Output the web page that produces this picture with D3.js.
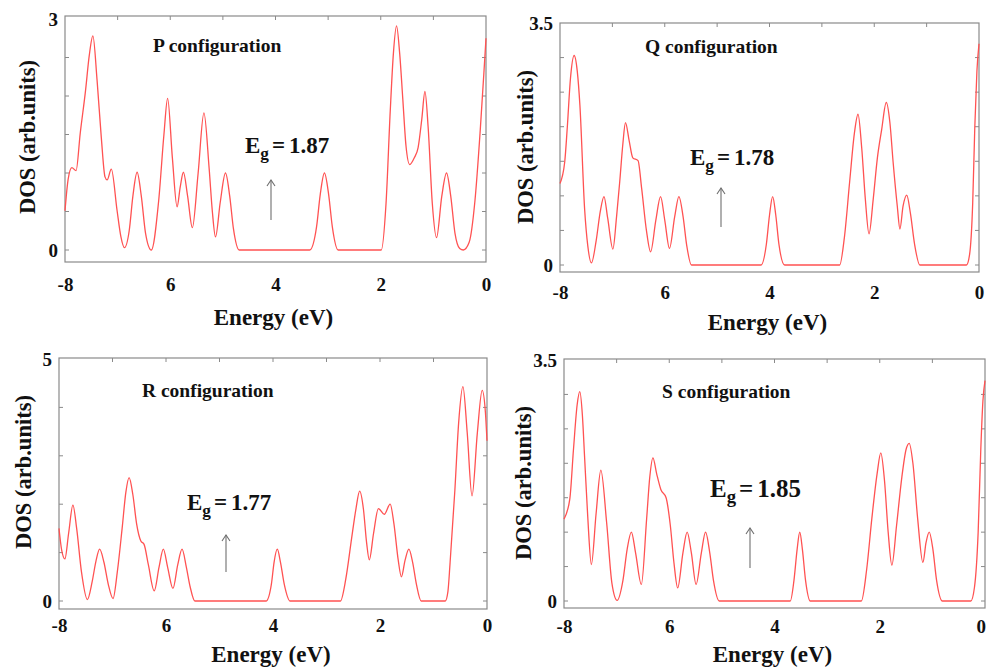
<!DOCTYPE html>
<html>
<head>
<meta charset="utf-8">
<script src="https://cdn.jsdelivr.net/npm/d3@7"></script>
<style>
  html, body { margin: 0; padding: 0; background: #fff; }
  svg { display: block; font-family: "Liberation Serif", "Times New Roman", serif; font-weight: bold; }
</style>
</head>
<body>
<svg id="chart" width="987" height="668"></svg>
<script>
// ---- data -------------------------------------------------------------
const energyTicks = [-8, -6, -4, -2, 0];
const energyTickLabels = ["-8", "6", "4", "2", "0"];
const energyMinorTicks = [-7, -6, -5, -4, -3, -2, -1];

const configNames = ["P configuration", "Q configuration", "R configuration", "S configuration"];
const gapValues = ["1.87", "1.78", "1.77", "1.85"];
const dosMax = [3, 3.5, 5, 3.5];
const dosTickLabels = [["0", "3"], ["0", "3.5"], ["0", "5"], ["0", "3.5"]];
const dosMinorStep = [0.5, 0.5, 1, 0.5];

// density of states, [energy (eV), DOS (arb. units)]
const dosP = [
  [-8.00,0.51],[-7.94,0.92],[-7.87,1.07],[-7.79,1.03],[-7.71,1.52],[-7.61,2.07],[-7.54,2.52],[-7.47,2.78],
  [-7.39,2.20],[-7.31,1.46],[-7.24,0.95],[-7.20,0.91],[-7.12,1.05],[-7.01,0.51],[-6.94,0.18],[-6.87,0.03],
  [-6.78,0.25],[-6.71,0.70],[-6.63,1.01],[-6.55,0.70],[-6.47,0.22],[-6.36,0.00],
  [-6.22,0.64],[-6.12,1.50],[-6.05,1.97],[-5.96,1.20],[-5.87,0.56],[-5.81,0.82],[-5.75,1.01],[-5.67,0.70],
  [-5.58,0.29],[-5.47,1.00],[-5.36,1.78],[-5.26,1.05],[-5.20,0.50],[-5.14,0.17],[-5.05,0.62],[-4.95,1.00],
  [-4.87,0.70],[-4.80,0.28],[-4.69,0.00],
  [-3.35,0.00],[-3.22,0.30],[-3.15,0.72],[-3.07,1.00],[-2.99,0.72],[-2.92,0.30],[-2.81,0.00],
  [-1.99,0.00],[-1.90,0.60],[-1.82,1.80],[-1.76,2.55],[-1.70,2.91],[-1.64,2.55],[-1.58,1.95],[-1.52,1.35],
  [-1.45,1.11],[-1.36,1.20],[-1.29,1.33],[-1.22,1.70],[-1.16,2.06],[-1.10,1.60],[-1.02,0.60],[-0.94,0.16],
  [-0.84,0.70],[-0.75,1.00],[-0.67,0.70],[-0.59,0.22],[-0.50,0.02],[-0.43,0.00],[-0.32,0.10],[-0.21,0.64],
  [-0.11,1.55],[-0.04,2.30],[0.00,2.75]
];

const dosQ = [
  [-8.00,1.18],[-7.91,1.49],[-7.86,2.00],[-7.80,2.70],[-7.73,3.03],[-7.67,2.80],[-7.62,2.31],[-7.53,0.81],
  [-7.47,0.28],[-7.40,0.03],[-7.31,0.35],[-7.23,0.78],[-7.16,0.99],[-7.09,0.68],[-6.99,0.23],[-6.92,0.70],
  [-6.86,1.20],[-6.80,1.75],[-6.75,2.06],[-6.68,1.80],[-6.61,1.55],[-6.51,1.51],[-6.44,1.10],[-6.35,0.50],
  [-6.27,0.19],[-6.17,0.65],[-6.08,0.99],[-6.00,0.65],[-5.91,0.24],[-5.81,0.70],[-5.73,0.99],[-5.65,0.70],
  [-5.58,0.28],[-5.49,0.00],
  [-4.16,0.00],[-4.06,0.30],[-4.00,0.72],[-3.94,0.99],[-3.88,0.72],[-3.82,0.30],[-3.71,0.00],
  [-2.66,0.00],[-2.57,0.40],[-2.47,1.20],[-2.38,1.90],[-2.31,2.18],[-2.24,1.70],[-2.17,0.95],[-2.10,0.45],
  [-2.02,0.95],[-1.94,1.55],[-1.86,1.95],[-1.77,2.35],[-1.70,2.05],[-1.64,1.49],[-1.56,0.85],[-1.51,0.52],
  [-1.45,0.85],[-1.38,1.01],[-1.31,0.75],[-1.23,0.30],[-1.13,0.00],
  [-0.24,0.00],[-0.18,0.15],[-0.12,0.90],[-0.08,2.00],[-0.04,2.80],[0.00,3.20]
];

const dosR = [
  [-8.00,1.50],[-7.95,1.05],[-7.89,0.87],[-7.82,1.40],[-7.74,1.98],[-7.67,1.50],[-7.58,0.60],[-7.47,0.03],
  [-7.38,0.40],[-7.31,0.82],[-7.24,1.07],[-7.16,0.80],[-7.08,0.35],[-6.99,0.05],[-6.91,0.60],[-6.82,1.50],
  [-6.75,2.25],[-6.69,2.55],[-6.62,2.20],[-6.55,1.60],[-6.47,1.24],[-6.41,1.17],[-6.33,0.75],[-6.22,0.21],
  [-6.13,0.70],[-6.05,1.07],[-5.97,0.70],[-5.87,0.26],[-5.78,0.75],[-5.70,1.07],[-5.62,0.70],[-5.55,0.30],
  [-5.46,0.00],
  [-4.13,0.00],[-4.03,0.35],[-3.98,0.80],[-3.92,1.07],[-3.86,0.80],[-3.79,0.35],[-3.68,0.00],
  [-2.74,0.00],[-2.64,0.45],[-2.53,1.30],[-2.45,1.90],[-2.38,2.27],[-2.31,1.90],[-2.25,1.20],[-2.20,0.85],
  [-2.12,1.40],[-2.03,1.91],[-1.92,1.79],[-1.81,2.00],[-1.74,1.60],[-1.66,0.85],[-1.60,0.50],[-1.53,0.85],
  [-1.46,1.07],[-1.39,0.80],[-1.32,0.35],[-1.23,0.00],
  [-0.78,0.00],[-0.73,0.20],[-0.69,0.79],[-0.60,2.30],[-0.53,3.68],[-0.45,4.43],[-0.37,3.48],[-0.28,2.17],
  [-0.18,3.48],[-0.09,4.35],[-0.03,3.90],[0.00,3.31]
];

const dosS = [
  [-8.00,1.19],[-7.89,1.48],[-7.82,2.20],[-7.75,2.85],[-7.70,3.04],[-7.65,2.69],[-7.61,2.11],[-7.55,1.24],
  [-7.48,0.53],[-7.39,1.27],[-7.30,1.90],[-7.19,1.14],[-7.09,0.26],[-6.99,0.01],[-6.88,0.30],[-6.80,0.75],
  [-6.72,1.00],[-6.64,0.70],[-6.53,0.24],[-6.43,1.19],[-6.37,1.80],[-6.31,2.08],[-6.24,1.85],[-6.16,1.62],
  [-6.06,1.50],[-5.98,1.10],[-5.91,0.55],[-5.84,0.19],[-5.74,0.70],[-5.66,1.00],[-5.58,0.70],[-5.49,0.24],
  [-5.39,0.70],[-5.31,1.00],[-5.23,0.70],[-5.16,0.30],[-5.05,0.00],
  [-3.70,0.00],[-3.63,0.30],[-3.57,0.75],[-3.52,1.00],[-3.47,0.75],[-3.41,0.30],[-3.32,0.00],
  [-2.35,0.00],[-2.25,0.45],[-2.15,1.20],[-2.05,1.85],[-1.98,2.15],[-1.91,1.75],[-1.84,1.00],[-1.77,0.52],
  [-1.68,1.10],[-1.58,1.80],[-1.50,2.20],[-1.44,2.29],[-1.37,2.00],[-1.28,1.20],[-1.18,0.56],[-1.12,0.85],
  [-1.06,1.00],[-0.99,0.75],[-0.92,0.30],[-0.81,0.00],
  [-0.27,0.00],[-0.20,0.20],[-0.13,1.00],[-0.08,2.20],[-0.04,2.90],[0.00,3.20]
];

const dosSeries = [dosP, dosQ, dosR, dosS];

// ---- layout (pixels) --------------------------------------------------
const W = 987;
const panels = [
  { x0: 65,  x1: 486, yZero: 250, yTop: 19,  fTop: 16,  fBot: 262, tickY: 291, xTitleY: 325, yTitleX: 27,  yTitleY: 137,
    titleX: 153, titleY: 52,  egX: 245, egY: 153, egSize: 23, arrowX: 271, arrowY0: 220, arrowY1: 180 },
  { x0: 560, x1: 979, yZero: 265, yTop: 23,  fTop: 23,  fBot: 272, tickY: 299, xTitleY: 330, yTitleX: 525, yTitleY: 147,
    titleX: 645, titleY: 53,  egX: 690, egY: 165, egSize: 23, arrowX: 721, arrowY0: 227, arrowY1: 188 },
  { x0: 59,  x1: 487, yZero: 601, yTop: 359, fTop: 358, fBot: 609, tickY: 632, xTitleY: 662, yTitleX: 23,  yTitleY: 472,
    titleX: 142, titleY: 397, egX: 187, egY: 510, egSize: 23, arrowX: 226, arrowY0: 572, arrowY1: 535 },
  { x0: 564, x1: 985, yZero: 601, yTop: 360, fTop: 359, fBot: 608, tickY: 633, xTitleY: 662, yTitleX: 523, yTitleY: 483,
    titleX: 662, titleY: 398, egX: 710, egY: 497, egSize: 25, arrowX: 750, arrowY0: 568, arrowY1: 528 }
];

const frameColor = "#8a8a8a";
const curveColor = "#ff5252";
const textColor = "#111";

const svg = d3.select("#chart");

panels.forEach((p, i) => {
  const x = d3.scaleLinear().domain([-8, 0]).range([p.x0, p.x1]);
  const y = d3.scaleLinear().domain([0, dosMax[i]]).range([p.yZero, p.yTop]);
  const g = svg.append("g");

  // frame
  g.append("rect")
    .attr("x", p.x0).attr("y", p.fTop)
    .attr("width", p.x1 - p.x0).attr("height", p.fBot - p.fTop)
    .attr("fill", "none").attr("stroke", frameColor).attr("stroke-width", 1.2);

  // minor ticks along the top edge
  g.selectAll(".xt").data(energyMinorTicks).enter().append("line")
    .attr("x1", d => x(d)).attr("x2", d => x(d))
    .attr("y1", p.fTop).attr("y2", p.fTop + 4)
    .attr("stroke", frameColor).attr("stroke-width", 1);

  // minor ticks on left and right edges
  const yMinor = d3.range(dosMinorStep[i], dosMax[i] - 1e-6, dosMinorStep[i]).concat([0]);
  g.selectAll(".yl").data(yMinor).enter().append("line")
    .attr("x1", p.x0).attr("x2", p.x0 + 4)
    .attr("y1", d => y(d)).attr("y2", d => y(d))
    .attr("stroke", frameColor).attr("stroke-width", 1);
  g.selectAll(".yr").data(yMinor).enter().append("line")
    .attr("x1", p.x1 - 4).attr("x2", p.x1)
    .attr("y1", d => y(d)).attr("y2", d => y(d))
    .attr("stroke", frameColor).attr("stroke-width", 1);

  // energy axis labels
  const xAxis = d3.axisBottom(x)
    .tickValues(energyTicks)
    .tickFormat((d, k) => energyTickLabels[k])
    .tickSize(0).tickPadding(0);
  const xa = g.append("g").attr("transform", `translate(0,${p.tickY})`).call(xAxis);
  xa.select(".domain").remove();
  xa.selectAll("text")
    .attr("dy", 0).attr("y", 0)
    .style("font-family", "Liberation Serif, serif").style("font-weight", "bold")
    .style("font-size", "19px").attr("fill", textColor);
  // keep the last label inside the page
  xa.selectAll(".tick").each(function () {
    const t = d3.select(this).select("text");
    const b = t.node().getBBox();
    const tx = +this.getAttribute("transform").match(/translate\(([-\d.]+)/)[1];
    const over = tx + b.x + b.width - (W - 1);
    if (over > 0) t.attr("x", -over);
  });

  // DOS axis labels
  const yAxis = d3.axisLeft(y)
    .tickValues([0, dosMax[i]])
    .tickFormat((d, k) => dosTickLabels[i][k])
    .tickSize(0).tickPadding(7);
  const ya = g.append("g").attr("transform", `translate(${p.x0},0)`).call(yAxis);
  ya.select(".domain").remove();
  ya.selectAll("text")
    .style("font-family", "Liberation Serif, serif").style("font-weight", "bold")
    .style("font-size", "19px").attr("fill", textColor);

  // axis titles
  g.append("text")
    .attr("x", (p.x0 + p.x1) / 2 - 2).attr("y", p.xTitleY)
    .attr("text-anchor", "middle").attr("font-size", 23).attr("fill", textColor)
    .text("Energy (eV)");
  g.append("text")
    .attr("transform", `translate(${p.yTitleX + 8},${p.yTitleY}) rotate(-90)`)
    .attr("text-anchor", "middle").attr("font-size", 22.5).attr("fill", textColor)
    .text("DOS (arb.units)");

  // configuration name
  g.append("text")
    .attr("x", p.titleX).attr("y", p.titleY)
    .attr("font-size", 19.5).attr("fill", textColor)
    .text(configNames[i]);

  // band gap annotation
  const eg = g.append("text")
    .attr("x", p.egX).attr("y", p.egY)
    .attr("font-size", p.egSize).attr("fill", textColor);
  eg.append("tspan").text("E");
  eg.append("tspan").attr("dy", 6).attr("font-size", p.egSize * 0.75).text("g");
  eg.append("tspan").attr("dy", -6).attr("dx", 3).text("=");
  eg.append("tspan").attr("dx", 4).text(gapValues[i]);

  // arrow marking the gap
  g.append("line")
    .attr("x1", p.arrowX).attr("x2", p.arrowX)
    .attr("y1", p.arrowY0).attr("y2", p.arrowY1)
    .attr("stroke", "#6f6f6f").attr("stroke-width", 1.1);
  g.append("path")
    .attr("d", `M${p.arrowX - 4},${p.arrowY1 + 6} L${p.arrowX},${p.arrowY1} L${p.arrowX + 4},${p.arrowY1 + 6}`)
    .attr("fill", "none").attr("stroke", "#6f6f6f").attr("stroke-width", 1.1);

  // DOS curve
  const line = d3.line()
    .x(d => x(d[0]))
    .y(d => y(d[1]))
    .curve(d3.curveMonotoneX);
  g.append("path")
    .datum(dosSeries[i])
    .attr("d", line)
    .attr("fill", "none")
    .attr("stroke", curveColor)
    .attr("stroke-width", 1.3)
    .attr("stroke-linejoin", "round");
});
</script>
</body>
</html>
